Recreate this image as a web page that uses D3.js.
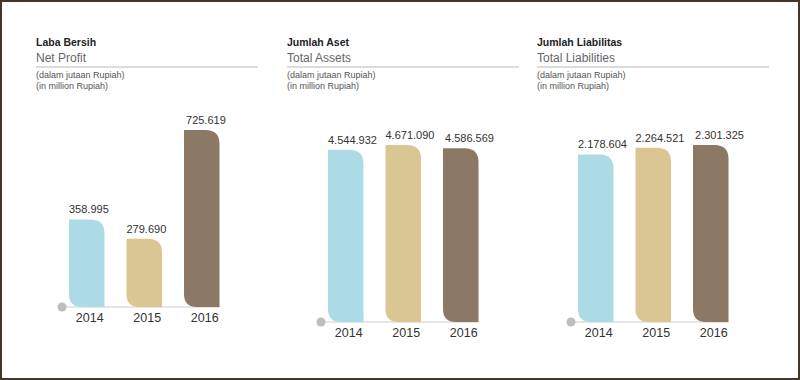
<!DOCTYPE html>
<html><head><meta charset="utf-8">
<script src="https://cdn.jsdelivr.net/npm/d3@7"></script>
<style>
html,body{margin:0;padding:0;background:#fff;}
svg{display:block;font-family:"Liberation Sans",Arial,Helvetica,sans-serif;}
</style></head>
<body>
<svg id="chart" width="800" height="380"></svg>
<script>
const years = ["2014", "2015", "2016"];
const netProfit = [358995, 279690, 725619];
const totalAssets = [4544932, 4671090, 4586569];
const totalLiabilities = [2178604, 2264521, 2301325];
const titlesId = ["Laba Bersih", "Jumlah Aset", "Jumlah Liabilitas"];
const titlesEn = ["Net Profit", "Total Assets", "Total Liabilities"];
const unitId = "(dalam jutaan Rupiah)";
const unitEn = "(in million Rupiah)";
const barColors = ["#acdbe6", "#d9c692", "#8b7865"];

const svg = d3.select("#chart");
svg.append("rect").attr("x",1).attr("y",1).attr("width",798).attr("height",378)
  .attr("fill","#fff").attr("stroke","#45362a").attr("stroke-width",2);

const fmt = v => d3.format(",")(v).replace(/,/g, ".");

function barPath(x, y, w, h, rTR, rBL) {
  const r1 = Math.min(rTR, w, h), r2 = Math.min(rBL, w, h - r1);
  return `M${x},${y}H${x+w-r1}Q${x+w},${y} ${x+w},${y+r1}V${y+h}H${x+r2}Q${x},${y+h} ${x},${y+h-r2}Z`;
}

const panels = [
  {values: netProfit, tx: 36, lineEnd: 258, x0: 69, base: 307},
  {values: totalAssets, tx: 287, lineEnd: 519, x0: 328, base: 322},
  {values: totalLiabilities, tx: 537, lineEnd: 769, x0: 578, base: 322}
];

panels.forEach((p, i) => {
  const g = svg.append("g");
  g.append("text").attr("x", p.tx).attr("y", 46).attr("font-size", 10.5)
    .attr("font-weight", "bold").attr("fill", "#222").text(titlesId[i]);
  g.append("text").attr("x", p.tx).attr("y", 62).attr("font-size", 12)
    .attr("fill", "#666").text(titlesEn[i]);
  g.append("line").attr("x1", p.tx).attr("x2", p.lineEnd).attr("y1", 67).attr("y2", 67)
    .attr("stroke", "#dcdcdc").attr("stroke-width", 2);
  g.append("text").attr("x", p.tx).attr("y", 78).attr("font-size", 9)
    .attr("fill", "#555").text(unitId);
  g.append("text").attr("x", p.tx).attr("y", 88.5).attr("font-size", 9)
    .attr("fill", "#555").text(unitEn);

  const x = d3.scaleBand().domain(years).range([p.x0, p.x0 + 150.5])
    .paddingInner(0.383).paddingOuter(0);
  const y = d3.scaleLinear().domain([0, d3.max(p.values)]).range([p.base, p.base - 177]);

  g.append("line").attr("x1", p.x0 - 7).attr("x2", x(years[2]) + x.bandwidth())
    .attr("y1", p.base).attr("y2", p.base).attr("stroke", "#dedede").attr("stroke-width", 1.5);

  const data = years.map((yr, j) => ({yr, v: p.values[j], c: barColors[j]}));
  g.selectAll("path.bar").data(data).enter().append("path").attr("class", "bar")
    .attr("d", d => barPath(x(d.yr), y(d.v), x.bandwidth(), p.base - y(d.v), 14, 13))
    .attr("fill", d => d.c);

  g.append("circle").attr("cx", p.x0 - 7).attr("cy", p.base).attr("r", 4.5).attr("fill", "#bdbdbd");

  g.selectAll("text.val").data(data).enter().append("text").attr("class", "val")
    .attr("x", (d, j) => x(d.yr) + (j === 2 ? 2 : 0)).attr("y", d => y(d.v) - 6)
    .attr("font-size", 11).attr("fill", "#333").text(d => fmt(d.v));

  g.selectAll("text.yr").data(data).enter().append("text").attr("class", "yr")
    .attr("x", d => x(d.yr) + x.bandwidth() / 2 + 3).attr("y", p.base + 14.5)
    .attr("text-anchor", "middle").attr("font-size", 12.5).attr("fill", "#333").text(d => d.yr);
});
</script>
</body></html>
